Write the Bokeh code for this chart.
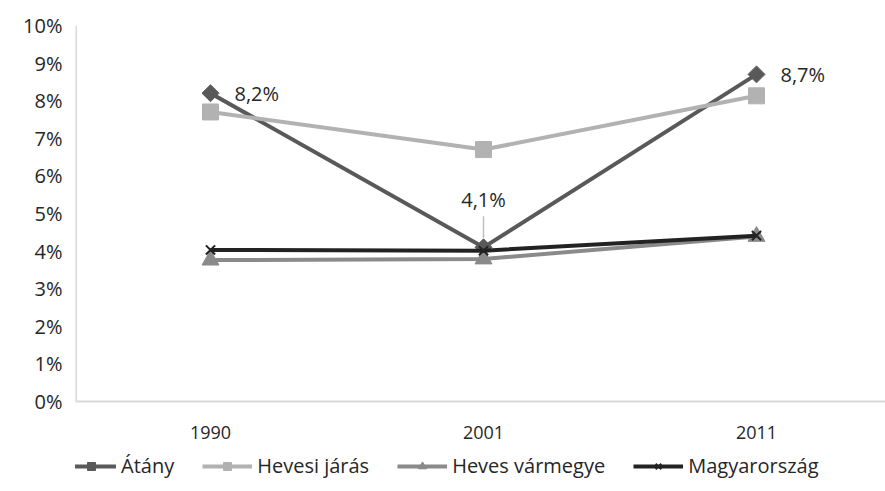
import math
from bokeh.plotting import figure
from bokeh.models import ColumnDataSource, FixedTicker, LabelSet, Legend, LegendItem, Range1d, NumeralTickFormatter, Span
from bokeh.embed import file_html
from bokeh.resources import INLINE
from bokeh.core.properties import value

years = ["1990", "2001", "2011"]
atany = [0.082, 0.041, 0.087]
hevesi_jaras = [0.077, 0.067, 0.0813]
heves_varmegye = [0.0376, 0.0379, 0.0439]
magyarorszag = [0.0403, 0.0401, 0.0441]

series_names = ["Átány", "Hevesi járás", "Heves vármegye", "Magyarország"]
series_vals = [atany, hevesi_jaras, heves_varmegye, magyarorszag]
colors = ["#595959", "#b2b2b2", "#8a8a8a", "#222222"]
markers = ["square", "square", "triangle", "x"]
angles = [math.pi / 4, 0, 0, 0]
msizes = [12, 16, 17, 13]

FONT = "Open Sans"
xs = list(range(len(years)))
X0, X1 = -0.4945, 2.4725
Y0, Y1 = -0.02394, 0.10

p = figure(frame_width=810, frame_height=466, output_backend="svg", toolbar_location=None,
           x_axis_location=None,
           x_range=Range1d(X0, X1), y_range=Range1d(Y0, Y1),
           min_border_left=75, min_border_right=0, min_border_top=25, min_border_bottom=0)
p.outline_line_color = None
p.xgrid.visible = False
p.ygrid.visible = False
p.background_fill_color = "white"

p.yaxis.ticker = FixedTicker(ticks=[i / 100 for i in range(0, 11)])
p.yaxis.formatter = NumeralTickFormatter(format="0%")
p.yaxis.axis_line_color = None
p.yaxis.major_tick_line_color = None
p.yaxis.minor_tick_line_color = None
p.yaxis.major_tick_out = 0
p.yaxis.major_label_text_font = FONT
p.yaxis.major_label_text_color = "#262626"
p.yaxis.major_label_text_font_size = "20px"
p.yaxis.major_label_standoff = 13

# axis lines (value axis from 0 to top, category axis at 0)
p.add_layout(Span(location=0, dimension="width", line_color="#d9d9d9", line_width=2))
p.segment(x0=[X0], y0=[0], x1=[X0], y1=[Y1], line_color="#d9d9d9", line_width=3)

# category labels
xl_src = ColumnDataSource(dict(x=xs, y=[0] * len(xs), t=years))
p.add_layout(LabelSet(x="x", y="y", text="t", source=xl_src, y_offset=-31,
                      text_align="center", text_baseline="middle", text_font=value(FONT),
                      text_font_size="18px", text_color="#262626"))

items = []
for name, vals, c, m, a, s in zip(series_names, series_vals, colors, markers, angles, msizes):
    src = ColumnDataSource(dict(x=xs, y=vals))
    lr = p.line("x", "y", source=src, line_color=c, line_width=4)
    if m == "x":
        sr = p.scatter("x", "y", source=src, marker=m, size=s, line_color=c, line_width=2)
    else:
        sr = p.scatter("x", "y", source=src, marker=m, size=s, angle=a, fill_color=c, line_color=c)
    items.append(LegendItem(label=name, renderers=[lr, sr]))

# leader line for the middle label
p.segment(x0=[1], y0=[atany[1] + 0.0025], x1=[1], y1=[atany[1] + 0.0083],
          line_color="#bfbfbf", line_width=1.5)

lab_txt = [f"{v*100:.1f}%".replace(".", ",") for v in atany]
lab_src = ColumnDataSource(dict(x=xs, y=atany, t=lab_txt,
                                xo=[24, 0, 24], yo=[0, 48, 0],
                                al=["left", "center", "left"]))
p.add_layout(LabelSet(x="x", y="y", text="t", source=lab_src, x_offset="xo", y_offset="yo",
                      text_align="al", text_baseline="middle", text_font=value(FONT),
                      text_font_size="20px", text_color="#262626"))

legend = Legend(items=items, orientation="horizontal", location=(-9, 12),
                label_text_font=FONT, label_text_font_size="20px", label_text_color="#262626",
                glyph_width=50, glyph_height=20, label_height=20, spacing=28, label_standoff=5,
                border_line_color=None, background_fill_alpha=0, margin=0, padding=2)
p.add_layout(legend, "center")

open("out.html", "w").write(file_html(p, INLINE))
